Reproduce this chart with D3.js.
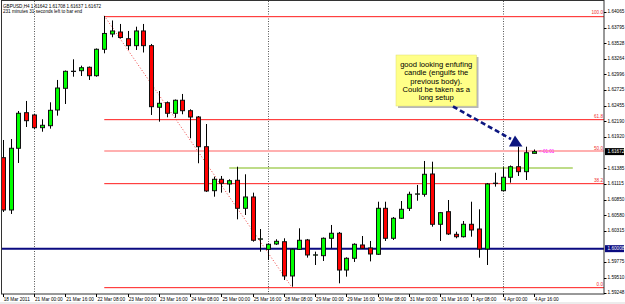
<!DOCTYPE html>
<html lang='en'>
<head>
  <title>GBPUSD H4</title>
  <script src='https://cdn.jsdelivr.net/npm/d3@7/dist/d3.min.js'></script>
  <style>
    body { margin: 0; background: #fff; }
    text { font-family: 'Liberation Sans', Arial, sans-serif; }
  </style>
</head>
<body>
  <script>
    // bars from 18 Mar 2011 08:00 (index -4) to 4 Apr 16:00 (index 64), H4
    let firstBar = -4;
    let open = [1.61568, 1.60671, 1.61729, 1.62339, 1.62300, 1.62082, 1.62116, 1.62385, 1.62757, 1.63045,
      1.63059, 1.63117, 1.62973, 1.63426, 1.63688, 1.63722, 1.63607, 1.63488, 1.63740, 1.63488,
      1.62432, 1.62510, 1.62329, 1.62552, 1.62373, 1.62265, 1.61756, 1.61002, 1.61197, 1.61117,
      1.61180, 1.60700, 1.60894, 1.60170, 1.59997, 1.60088, 1.60127, 1.59540, 1.59997, 1.60157,
      1.59898, 1.59888, 1.60186, 1.60272, 1.59642, 1.59843, 1.60071, 1.60020, 1.59912, 1.60700,
      1.60186, 1.60529, 1.60700, 1.60943, 1.60940, 1.61288, 1.60426, 1.60642, 1.60254, 1.60213,
      1.60426, 1.60345, 1.60002, 1.61127, 1.61002, 1.61232, 1.61413, 1.61328, 1.61642];
    let high = [1.61871, 1.61888, 1.62368, 1.62540, 1.62317, 1.62226, 1.62517, 1.62900, 1.63062, 1.63254,
      1.63145, 1.63131, 1.63440, 1.63997, 1.63920, 1.63860, 1.63740, 1.63813, 1.63860, 1.63517,
      1.62711, 1.62531, 1.62565, 1.62660, 1.62397, 1.62282, 1.62145, 1.61242, 1.61254, 1.61197,
      1.61413, 1.61283, 1.60968, 1.60345, 1.60097, 1.60169, 1.60186, 1.60010, 1.60357, 1.60174,
      1.59957, 1.60200, 1.60414, 1.60294, 1.59860, 1.60100, 1.60225, 1.60140, 1.60813, 1.60813,
      1.60551, 1.60825, 1.60985, 1.61100, 1.61511, 1.61499, 1.60637, 1.60842, 1.60299, 1.60482,
      1.60813, 1.60683, 1.61134, 1.61310, 1.61403, 1.61434, 1.61756, 1.61756, 1.61708];
    let low = [1.60637, 1.60603, 1.61477, 1.62094, 1.62060, 1.62013, 1.62065, 1.62288, 1.62488, 1.62956,
      1.62968, 1.62900, 1.62956, 1.63357, 1.63632, 1.63611, 1.63414, 1.63414, 1.63371, 1.62300,
      1.62185, 1.62260, 1.62253, 1.62312, 1.61900, 1.61472, 1.60980, 1.60899, 1.60968, 1.60968,
      1.60511, 1.60585, 1.60128, 1.59956, 1.59814, 1.60071, 1.59471, 1.59356, 1.59985, 1.59854,
      1.59728, 1.59797, 1.60014, 1.59414, 1.59528, 1.59780, 1.60002, 1.59790, 1.59900, 1.60140,
      1.60157, 1.60517, 1.60654, 1.60830, 1.60899, 1.60385, 1.60140, 1.60243, 1.60186, 1.60200,
      1.60213, 1.59853, 1.59728, 1.61071, 1.60997, 1.61139, 1.61254, 1.61185, 1.61637];
    let close = [1.60671, 1.61729, 1.62329, 1.62202, 1.62082, 1.62123, 1.62380, 1.62762, 1.63048, 1.63050,
      1.63110, 1.62973, 1.63426, 1.63697, 1.63740, 1.63628, 1.63488, 1.63740, 1.63488, 1.62442,
      1.62500, 1.62329, 1.62552, 1.62373, 1.62265, 1.61756, 1.60997, 1.61197, 1.61129, 1.61173,
      1.60700, 1.60894, 1.60152, 1.60176, 1.60083, 1.60134, 1.59540, 1.59997, 1.60152, 1.59900,
      1.59902, 1.60186, 1.60272, 1.59642, 1.59843, 1.60083, 1.60014, 1.59917, 1.60700, 1.60186,
      1.60529, 1.60683, 1.60940, 1.60947, 1.61283, 1.60426, 1.60625, 1.60260, 1.60213, 1.60426,
      1.60328, 1.60002, 1.61117, 1.61131, 1.61232, 1.61413, 1.61328, 1.61653, 1.61672];

    // time axis labels (bar index of each label)
    let timeTickBars = [-4, 0, 4, 8, 12, 16, 20, 24, 28, 32, 36, 40, 44, 48, 52, 56, 60, 64];
    let timeTickLabels = ["18 Mar 2011", "21 Mar 00:00", "21 Mar 16:00", "22 Mar 08:00", "23 Mar 00:00",
      "23 Mar 16:00", "24 Mar 08:00", "25 Mar 00:00", "25 Mar 16:00", "28 Mar 08:00", "29 Mar 00:00",
      "29 Mar 16:00", "30 Mar 08:00", "31 Mar 00:00", "31 Mar 16:00", "1 Apr 08:00", "4 Apr 00:00", "4 Apr 16:00"];
    let weekStartBars = [0, 30, 60];

    // price axis labels
    let priceTicks = [1.64065, 1.63795, 1.63528, 1.63264, 1.62996, 1.62725, 1.62455, 1.62190, 1.61920,
      1.61385, 1.61115, 1.60850, 1.60580, 1.60315, 1.59775, 1.59510, 1.59248];

    // fibonacci retracement between bar 9 high and bar 33 low
    let fibBars = [9, 33];
    let fibPrices = [1.64000, 1.59350];
    let fibLevels = [0, 0.382, 0.5, 0.618, 1];
    let fibNames = ["0.0", "38.2", "50.0", "61.8", "100.0"];

    // other drawn objects
    let supportPrice = 1.60008;
    let trendBars = [25, 69];
    let trendPrice = 1.61391;

    let header = ["GBPUSD,H4  1.61642 1.61708 1.61637 1.61672", "231 minutes 31 seconds left to bar end"];
    let noteLines = ["good looking enfufing", "candle (engulfs the", "previous body).", "Could be taken as a", "long setup"];

    let width = 625, height = 304;
    let plot = { left: 2, right: 604, top: 1, bottom: 294 };

    let svg = d3.select("body").append("svg")
      .attr("width", width).attr("height", height);

    svg.append("rect").attr("x", 0).attr("y", 0).attr("width", width).attr("height", height).attr("fill", "#fff");
    svg.append("rect").attr("x", 0).attr("y", 302).attr("width", width).attr("height", 2).attr("fill", "#ececec");

    let xScale = d3.scaleLinear().domain([0, 60]).range([34, 502.5]);
    let yScale = d3.scaleLinear().domain([1.59248, 1.64065]).range([293, 12]);

    svg.append("clipPath").attr("id", "plotclip").append("rect")
      .attr("x", plot.left).attr("y", plot.top)
      .attr("width", plot.right - plot.left).attr("height", plot.bottom - plot.top);
    let g = svg.append("g").attr("clip-path", "url(#plotclip)");

    // week separators
    g.selectAll(".sep").data(weekStartBars).join("line").attr("class", "sep")
      .attr("x1", d => Math.round(xScale(d)) + 0.5).attr("x2", d => Math.round(xScale(d)) + 0.5)
      .attr("y1", plot.top).attr("y2", plot.bottom)
      .attr("stroke", "#555").attr("stroke-dasharray", "1,1.5");

    // fibonacci lines
    let fibX1 = xScale(fibBars[0]);
    let fibPrice = l => fibPrices[1] + l * (fibPrices[0] - fibPrices[1]);
    g.append("line")
      .attr("x1", xScale(fibBars[0])).attr("y1", yScale(fibPrices[0]))
      .attr("x2", xScale(fibBars[1])).attr("y2", yScale(fibPrices[1]))
      .attr("stroke", "#f04040").attr("stroke-dasharray", "1,2");
    g.selectAll(".fib").data(fibLevels).join("rect").attr("class", "fib")
      .attr("x", fibX1).attr("width", plot.right - fibX1)
      .attr("y", d => Math.round(yScale(fibPrice(d))) - (d == 0.5 ? 1 : 0))
      .attr("height", d => d == 0.5 ? 2 : 1.2)
      .attr("fill", d => d == 0.5 ? "#ffb0b0" : "#ff4040");
    g.selectAll(".fibtxt").data(fibLevels).join("text").attr("class", "fibtxt")
      .attr("x", plot.right - 1).attr("y", d => yScale(fibPrice(d)) - 1.5)
      .attr("text-anchor", "end").attr("font-size", 4.6).attr("fill", "#f03030")
      .text((d, i) => fibNames[i]);

    // trend line and support line
    g.append("line")
      .attr("x1", xScale(trendBars[0])).attr("x2", xScale(trendBars[1]))
      .attr("y1", yScale(trendPrice)).attr("y2", yScale(trendPrice))
      .attr("stroke", "#a8d060").attr("stroke-width", 1.5);
    g.append("line")
      .attr("x1", plot.left).attr("x2", plot.right)
      .attr("y1", yScale(supportPrice)).attr("y2", yScale(supportPrice))
      .attr("stroke", "#0a0a80").attr("stroke-width", 2);

    // candles
    let bars = open.map((o, i) => ({ i: i + firstBar, o: o, h: high[i], l: low[i], c: close[i] }));
    let candles = g.selectAll(".candle").data(bars).join("g").attr("class", "candle");
    candles.append("line")
      .attr("x1", d => Math.round(xScale(d.i)) + 0.5).attr("x2", d => Math.round(xScale(d.i)) + 0.5)
      .attr("y1", d => yScale(d.h)).attr("y2", d => yScale(d.l))
      .attr("stroke", "#000");
    candles.append("rect")
      .attr("x", d => Math.round(xScale(d.i)) - 1.5)
      .attr("width", 4)
      .attr("y", d => yScale(Math.max(d.o, d.c)))
      .attr("height", d => Math.max(0.3, Math.abs(yScale(d.o) - yScale(d.c))))
      .attr("fill", d => d.c >= d.o ? "#00ff00" : "#ff0000")
      .attr("stroke", "#111").attr("stroke-width", 1);

    // bar timer text
    let last = bars[bars.length - 1];
    g.append("text")
      .attr("x", xScale(last.i) + 5).attr("y", yScale(last.c))
      .attr("dominant-baseline", "middle").attr("font-size", 4.6).attr("fill", "#ff00ff")
      .text("<-01:01");

    // callout note with arrow
    let note = { x1: 396, x2: 476.5, y1: 55, y2: 106 };
    g.append("rect").attr("x", note.x1 + 2).attr("y", note.y1 + 2)
      .attr("width", note.x2 - note.x1).attr("height", note.y2 - note.y1).attr("fill", "#b8b8b8");
    g.append("rect").attr("x", note.x1).attr("y", note.y1)
      .attr("width", note.x2 - note.x1).attr("height", note.y2 - note.y1)
      .attr("fill", "#ffff88").attr("stroke", "#e0e070").attr("stroke-width", 0.5);
    g.selectAll(".note").data(noteLines).join("text").attr("class", "note")
      .attr("x", (note.x1 + note.x2) / 2).attr("y", (d, i) => 67 + i * 8.3)
      .attr("text-anchor", "middle").attr("font-size", 7.6).attr("fill", "#000")
      .text(d => d);
    g.append("line")
      .attr("x1", 453).attr("y1", 106.5).attr("x2", 511).attr("y2", 139)
      .attr("stroke", "#0c1680").attr("stroke-width", 2.6).attr("stroke-dasharray", "5,3");
    g.append("path")
      .attr("d", "M515,135.5 L509,146.5 L522.5,146.5 Z")
      .attr("fill", "#0c1680");

    // header
    svg.selectAll(".hdr").data(header).join("text").attr("class", "hdr")
      .attr("x", 3).attr("y", (d, i) => 7.5 + i * 5)
      .attr("font-size", 4.6).attr("fill", "#000")
      .text(d => d);

    // frame
    svg.append("rect")
      .attr("x", 1.5).attr("y", 0.5).attr("width", plot.right - 1.5).attr("height", plot.bottom - 0.5)
      .attr("fill", "none").attr("stroke", "#333");

    // price axis
    let pAxis = svg.append("g");
    pAxis.selectAll(".pt").data(priceTicks).join("line").attr("class", "pt")
      .attr("x1", plot.right).attr("x2", plot.right + 2.5)
      .attr("y1", d => Math.round(yScale(d)) + 0.5).attr("y2", d => Math.round(yScale(d)) + 0.5)
      .attr("stroke", "#000");
    pAxis.selectAll(".pl").data(priceTicks).join("text").attr("class", "pl")
      .attr("x", plot.right + 3.5).attr("y", d => yScale(d))
      .attr("dominant-baseline", "middle").attr("font-size", 4.7).attr("fill", "#000")
      .text(d => d.toFixed(5));
    // highlighted labels: current price and support line
    let marks = [{ p: last.c, bg: "#000" }, { p: supportPrice, bg: "#0a0a80" }];
    let hl = pAxis.selectAll(".hl").data(marks).join("g").attr("class", "hl");
    hl.append("rect")
      .attr("x", plot.right + 1).attr("y", d => yScale(d.p) - 3.5)
      .attr("width", 19).attr("height", 7).attr("fill", d => d.bg);
    hl.append("text")
      .attr("x", plot.right + 3.5).attr("y", d => yScale(d.p))
      .attr("dominant-baseline", "middle").attr("font-size", 4.7).attr("fill", "#fff")
      .text(d => d.p.toFixed(5));

    // time axis
    let tAxis = svg.append("g");
    tAxis.selectAll(".tt").data(timeTickBars).join("line").attr("class", "tt")
      .attr("x1", d => Math.round(xScale(d)) + 0.5).attr("x2", d => Math.round(xScale(d)) + 0.5)
      .attr("y1", plot.bottom).attr("y2", plot.bottom + 3)
      .attr("stroke", "#000");
    tAxis.selectAll(".tl").data(timeTickBars).join("text").attr("class", "tl")
      .attr("x", d => Math.max(2, xScale(d) + 1)).attr("y", 300.5)
      .attr("font-size", 4.7).attr("fill", "#000")
      .text((d, i) => timeTickLabels[i]);
  </script>
</body>
</html>
